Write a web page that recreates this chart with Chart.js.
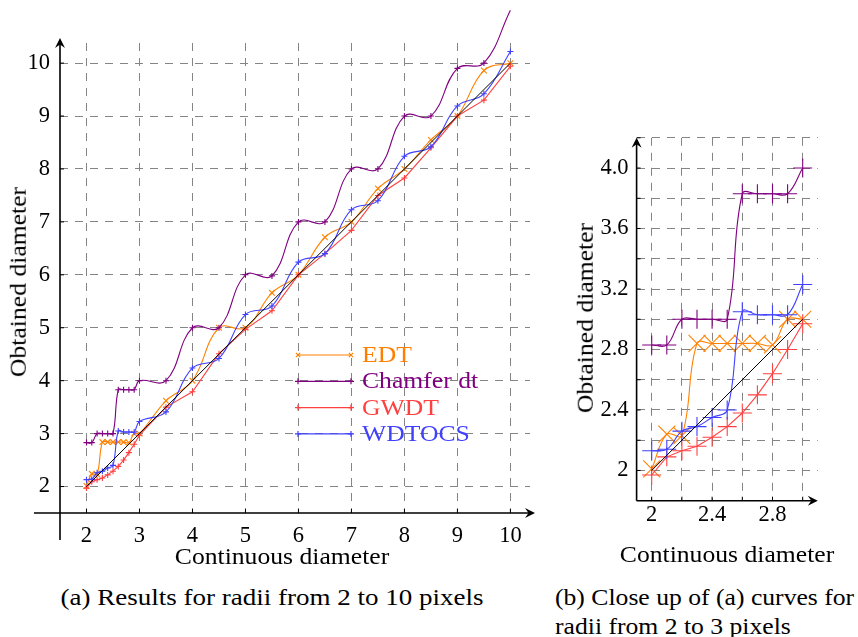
<!DOCTYPE html>
<html>
<head>
<meta charset="utf-8">
<script src="https://cdn.jsdelivr.net/npm/chart.js@4.4.1/dist/chart.umd.min.js"></script>
<style>
    body { margin: 0; background: #fff; font-family: 'Liberation Serif', serif; }
    #page { position: relative; width: 858px; height: 637px; overflow: hidden; color: #000; }
    #page canvas { position: absolute; }
    .txt { position: absolute; white-space: nowrap; font-family: 'Liberation Serif', serif; font-size: 22.5px; line-height: 1; }
    .mid { transform: translate(-50%, -50%) scaleX(1.14); }
    .wide { transform: translate(-50%, -50%) scaleX(1.2); }
    .vert { transform: translate(-50%, -50%) rotate(-90deg) scaleX(1.14); }
    .left { transform-origin: 0 50%; transform: translateY(-50%) scaleX(1.14); }
</style>
</head>
<body>
<div id="page">
    <canvas id="wideChart" width="545" height="580" style="left:0;top:0;width:545px;height:580px"></canvas>
    <canvas id="closeChart" width="290" height="440" style="left:560px;top:100px;width:290px;height:440px"></canvas>

    <div class="txt vert" style="left:19px;top:282px">Obtained diameter</div>
    <div class="txt mid" style="left:282px;top:557px">Continuous diameter</div>
    <div class="txt wide" style="left:272px;top:598px">(a) Results for radii from 2 to 10 pixels</div>

    <div class="txt vert" style="left:586px;top:318px">Obtained diameter</div>
    <div class="txt mid" style="left:727px;top:555px">Continuous diameter</div>
    <div class="txt left" style="left:555px;top:598px">(b) Close up of (a) curves for</div>
    <div class="txt left" style="left:555px;top:627px">radii from 2 to 3 pixels</div>
</div>

<script>
// Continuous diameter of each test disk
const continuousDiameter = [2.0, 2.1, 2.2, 2.3, 2.4, 2.5, 2.6, 2.7, 2.8, 2.9, 3.0,
    3.5, 4.0, 4.5, 5.0, 5.5, 6.0, 6.5, 7.0, 7.5, 8.0, 8.5, 9.0, 9.5, 10.0];

// Obtained diameter per method
const edtValues = [2.01, 2.24, 2.23, 2.84, 2.84, 2.84, 2.84, 2.84, 2.83, 3.0, 3.0,
    3.62, 4.0, 5.0, 5.0, 5.66, 6.0, 6.71, 7.0, 7.63, 8.0, 8.55, 9.0, 9.86, 10.0];
const chamferValues = [2.83, 2.83, 3.0, 3.0, 3.0, 3.0, 3.83, 3.83, 3.83, 3.83, 4.0,
    4.0, 5.0, 5.0, 6.0, 5.98, 7.0, 7.0, 8.0, 8.0, 9.0, 9.0, 9.9, 10.0, 11.0];
const gwdtValues = [1.97, 2.09, 2.13, 2.16, 2.22, 2.29, 2.38, 2.50, 2.64, 2.80, 2.97,
    3.50, 3.79, 4.51, 4.97, 5.32, 6.0, 6.40, 6.84, 7.50, 7.83, 8.40, 9.0, 9.30, 9.94];
const wdtocsValues = [2.13, 2.14, 2.26, 2.29, 2.35, 2.40, 3.05, 3.03, 3.03, 3.03, 3.23,
    3.41, 4.24, 4.42, 5.25, 5.41, 6.24, 6.40, 7.23, 7.40, 8.24, 8.42, 9.19, 9.42, 10.22];

const seriesNames = ['EDT', 'Chamfer dt', 'GWDT', 'WDTOCS'];

// Ticks of the full chart
const wideTicks = [2, 3, 4, 5, 6, 7, 8, 9, 10];
const wideTickLabels = ['2', '3', '4', '5', '6', '7', '8', '9', '10'];

// Ticks of the close up (grid every 0.2, label every 0.4)
const closeXTicks = [2.0, 2.2, 2.4, 2.6, 2.8, 3.0];
const closeXLabels = ['2', '', '2.4', '', '2.8', ''];
const closeYTicks = [2.0, 2.2, 2.4, 2.6, 2.8, 3.0, 3.2, 3.4, 3.6, 3.8, 4.0, 4.2];
const closeYLabels = ['2', '', '2.4', '', '2.8', '', '3.2', '', '3.6', '', '4.0', ''];

// Number of points that fall in the close up (diameter 2 to 3)
const closeCount = 11;

const seriesColors = ['#ff8000', '#800080', '#ff4040', '#4040ff'];
const seriesStyles = ['crossRot', 'cross', 'cross', 'cross'];
const seriesTension = [0.4, 0.4, 0, 0.4];
const gridColor = '#858585';
const textFont = "'Liberation Serif', serif";

document.addEventListener('DOMContentLoaded', function() {
    initializeCharts();
});

function initializeCharts() {
    initializeWideChart();
    initializeCloseChart();
}

// Small cross markers, drawn the same way for the legend
function drawMarker(ctx, style, radius, x, y) {
    const off = style === 'crossRot' ? radius * Math.SQRT1_2 : radius;
    ctx.beginPath();
    if (style === 'crossRot') {
        ctx.moveTo(x - off, y - off); ctx.lineTo(x + off, y + off);
        ctx.moveTo(x - off, y + off); ctx.lineTo(x + off, y - off);
    } else {
        ctx.moveTo(x - off, y); ctx.lineTo(x + off, y);
        ctx.moveTo(x, y - off); ctx.lineTo(x, y + off);
    }
    ctx.stroke();
}

function drawArrowHead(ctx, x, y, angle) {
    ctx.save();
    ctx.translate(x, y);
    ctx.rotate(angle);
    ctx.beginPath();
    ctx.moveTo(0, 0);
    ctx.lineTo(-10, -5);
    ctx.lineTo(-6.5, 0);
    ctx.lineTo(-10, 5);
    ctx.closePath();
    ctx.fill();
    ctx.restore();
}

// Axis lines through the chart corner, with arrows and inner tick marks
const axesPlugin = {
    id: 'arrowAxes',
    afterDraw(chart, args, opts) {
        const ctx = chart.ctx;
        const a = chart.chartArea;
        ctx.save();
        ctx.strokeStyle = '#000';
        ctx.fillStyle = '#000';
        ctx.lineWidth = 1.6;

        const xTip = a.right + opts.overshoot;
        const yTip = a.top - opts.overshoot;
        ctx.beginPath();
        ctx.moveTo(a.left - opts.extendLeft, a.bottom);
        ctx.lineTo(xTip - 6, a.bottom);
        ctx.moveTo(a.left, a.bottom + opts.extendDown);
        ctx.lineTo(a.left, yTip + 6);
        ctx.stroke();
        drawArrowHead(ctx, xTip, a.bottom, 0);
        drawArrowHead(ctx, a.left, yTip, -Math.PI / 2);

        ctx.lineWidth = 1;
        ctx.beginPath();
        chart.scales.x.ticks.forEach(function(t) {
            const px = chart.scales.x.getPixelForValue(t.value);
            ctx.moveTo(px, a.bottom);
            ctx.lineTo(px, a.bottom - 4);
        });
        chart.scales.y.ticks.forEach(function(t) {
            const py = chart.scales.y.getPixelForValue(t.value);
            ctx.moveTo(a.left, py);
            ctx.lineTo(a.left + 4, py);
        });
        ctx.stroke();
        ctx.restore();
    }
};

// Legend inside the plot area of the full chart
const legendPlugin = {
    id: 'insideLegend',
    afterDatasetsDraw(chart, args, opts) {
        if (!opts.show) return;
        const ctx = chart.ctx;
        ctx.save();
        seriesNames.forEach(function(name, i) {
            const y = opts.top + i * opts.step;
            ctx.strokeStyle = seriesColors[i];
            ctx.lineWidth = 1.2;
            ctx.beginPath();
            ctx.moveTo(opts.x1, y);
            ctx.lineTo(opts.x2, y);
            ctx.stroke();
            drawMarker(ctx, seriesStyles[i], 3, opts.x1, y);
            drawMarker(ctx, seriesStyles[i], 3, opts.x2, y);

            ctx.fillStyle = seriesColors[i];
            ctx.font = '22.5px ' + textFont;
            ctx.textBaseline = 'middle';
            ctx.translate(opts.textX, y + 1);
            ctx.scale(1.14, 1);
            ctx.fillText(name, 0, 0);
            ctx.setTransform(1, 0, 0, 1, 0, 0);
        });
        ctx.restore();
    }
};

function buildSeries(count, crossRadius, rotRadius) {
    const allValues = [edtValues, chamferValues, gwdtValues, wdtocsValues];
    const datasets = allValues.map(function(values, i) {
        const radius = seriesStyles[i] === 'crossRot' ? rotRadius : crossRadius;
        return {
            label: seriesNames[i],
            data: continuousDiameter.slice(0, count).map(function(x, j) {
                return { x: x, y: values[j] };
            }),
            borderColor: seriesColors[i],
            backgroundColor: seriesColors[i],
            borderWidth: 1.1,
            pointStyle: seriesStyles[i],
            pointRadius: radius,
            pointHoverRadius: radius,
            pointBorderWidth: 1.1,
            tension: seriesTension[i],
            clip: false,
            order: 4 - i
        };
    });

    // Reference line obtained = continuous
    const first = continuousDiameter[0];
    const last = continuousDiameter[count - 1];
    datasets.push({
        label: 'reference',
        data: [{ x: first, y: first }, { x: last, y: last }],
        borderColor: '#000',
        borderWidth: 1,
        pointRadius: 0,
        tension: 0,
        clip: false,
        order: 0
    });
    return datasets;
}

function buildScale(min, max, tickValues, tickLabels, boxSize, isX, padding) {
    return {
        type: 'linear',
        min: min,
        max: max,
        afterBuildTicks: function(scale) {
            scale.ticks = tickValues.map(function(v) { return { value: v }; });
        },
        afterFit: function(scale) {
            if (isX) scale.height = boxSize;
            else scale.width = boxSize;
        },
        grid: { color: gridColor, lineWidth: 1, drawTicks: false },
        border: { display: false, dash: [8, 7] },
        ticks: {
            autoSkip: false,
            maxRotation: 0,
            padding: padding,
            color: '#000',
            font: { family: textFont, size: 22.5 },
            callback: function(value, index) { return tickLabels[index]; }
        }
    };
}

function baseOptions(padding, scales, pluginOpts) {
    return {
        responsive: false,
        animation: false,
        events: [],
        layout: { padding: padding, autoPadding: false },
        plugins: Object.assign({
            legend: { display: false },
            tooltip: { enabled: false }
        }, pluginOpts),
        scales: scales
    };
}

// Results for radii from 2 to 10 pixels
function initializeWideChart() {
    const ctx = document.getElementById('wideChart');
    if (!ctx) return;

    new Chart(ctx, {
        type: 'line',
        data: { datasets: buildSeries(continuousDiameter.length, 3, 4) },
        options: baseOptions(
            { left: 0, top: 43, right: 15, bottom: 0 },
            {
                x: buildScale(1.5, 10.37, wideTicks, wideTickLabels, 67, true, 10),
                y: buildScale(1.5, 10.38, wideTicks, wideTickLabels, 60, false, 10)
            },
            {
                arrowAxes: { overshoot: 5, extendLeft: 26, extendDown: 27 },
                insideLegend: { show: true, x1: 298, x2: 351, textX: 362, top: 355, step: 26.3 }
            }
        ),
        plugins: [axesPlugin, legendPlugin]
    });
}

// Close up for radii from 2 to 3 pixels
function initializeCloseChart() {
    const ctx = document.getElementById('closeChart');
    if (!ctx) return;

    new Chart(ctx, {
        type: 'line',
        data: { datasets: buildSeries(closeCount, 9.5, 12) },
        options: baseOptions(
            { left: 0, top: 37.8, right: 32.2, bottom: 0 },
            {
                x: buildScale(1.9, 3.1, closeXTicks, closeXLabels, 39.3, true, 1),
                y: buildScale(1.8, 4.2, closeYTicks, closeYLabels, 76.6, false, 8)
            },
            {
                arrowAxes: { overshoot: 0, extendLeft: 0, extendDown: 0 },
                insideLegend: { show: false }
            }
        ),
        plugins: [axesPlugin, legendPlugin]
    });
}
</script>
</body>
</html>
